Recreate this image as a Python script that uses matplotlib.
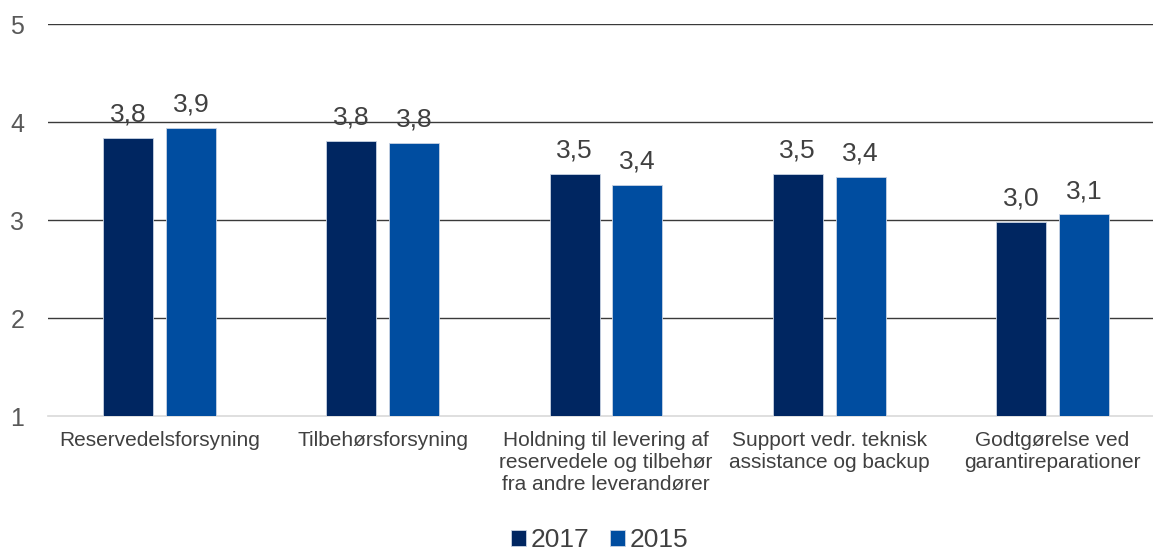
import matplotlib
matplotlib.use("Agg")
import matplotlib.pyplot as plt
import numpy as np

plt.rcParams['font.family'] = ['Liberation Sans', 'DejaVu Sans']

categories = [
    "Reservedelsforsyning",
    "Tilbehørsforsyning",
    "Holdning til levering af\nreservedele og tilbehør\nfra andre leverandører",
    "Support vedr. teknisk\nassistance og backup",
    "Godtgørelse ved\ngarantireparationer",
]
series_names = ["2017", "2015"]
values_2017 = [3.84, 3.81, 3.47, 3.47, 2.98]
values_2015 = [3.94, 3.79, 3.36, 3.44, 3.06]
y_ticks = [1, 2, 3, 4, 5]

colors = ["#002661", "#004DA0"]
text_color = "#404040"

fig = plt.figure(figsize=(11.53, 5.51), dpi=100)
ax = fig.add_axes([48 / 1153, 135 / 551, 1116 / 1153, 392 / 551])

x = np.arange(len(categories))
width = 0.224
offset = 0.141

bars = []
for vals, off, col, name in zip([values_2017, values_2015], [-offset, offset], colors, series_names):
    b = ax.bar(x + off, [v - 1 for v in vals], width, bottom=1, color=col,
               edgecolor="#c9d3e3", linewidth=0.6, label=name, zorder=3)
    labels = [f"{v:.1f}".replace(".", ",") for v in vals]
    ax.bar_label(b, labels=labels, padding=8, fontsize=19, color=text_color)
    bars.append(b)

ax.set_ylim(1, 5)
ax.set_xlim(-0.5, len(categories) - 0.5)
ax.set_yticks(y_ticks)
ax.set_yticklabels([str(t) for t in y_ticks], fontsize=18, color="#595959")
ax.tick_params(axis="y", length=0, pad=17)
ax.tick_params(axis="x", length=0, pad=11)
ax.set_xticks(x)
ax.set_xticklabels(categories, fontsize=15, color=text_color, linespacing=1.18, va="top")

for t in y_ticks[1:]:
    ax.axhline(t, color="#3a3a3a", linewidth=1.0, zorder=1)

for s in ["top", "right", "left"]:
    ax.spines[s].set_visible(False)
ax.spines["bottom"].set_color("#d9d9d9")
ax.spines["bottom"].set_linewidth(1.2)

fig.legend(handles=bars, labels=series_names, loc="lower center",
           bbox_to_anchor=(0.52, -0.045), ncol=2, frameon=False, fontsize=19,
           handlelength=0.58, handleheight=0.58, handletextpad=0.15,
           columnspacing=0.8, labelcolor=text_color)

fig.savefig("out.png", dpi=100)
